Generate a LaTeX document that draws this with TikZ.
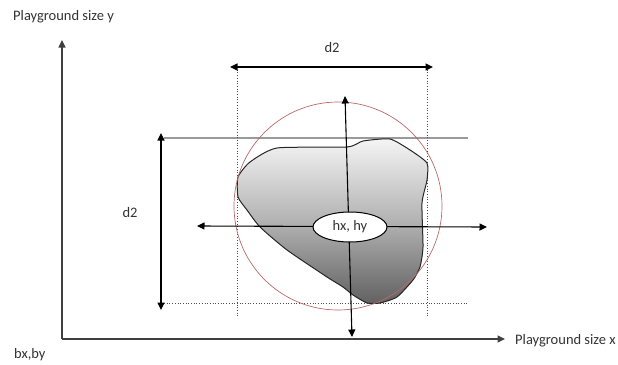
\documentclass[tikz,border=0pt]{standalone}
\usepackage{fontspec}
\setmainfont{Carlito}
\usetikzlibrary{arrows.meta,shapes.geometric}
\definecolor{axisgray}{HTML}{404040}
\definecolor{circred}{HTML}{B86A6A}
\definecolor{lgray}{HTML}{9A9A9A}
\begin{document}
\begin{tikzpicture}[x=1pt,y=-1pt,
  lbl/.style={font=\fontsize{14.5}{16}\selectfont, text=black!80, inner sep=0pt},
  arr/.style={black, line width=1.1pt, -{Triangle[length=7.5pt,width=7pt]}},
  darr/.style={black, line width=1.1pt, {Triangle[length=7.5pt,width=7pt]}-{Triangle[length=7.5pt,width=7pt]}},
  axis/.style={axisgray, line width=1.1pt, -{Triangle[length=7.5pt,width=7pt]}},
  guide/.style={black!70, dotted, line width=0.7pt},
  hubnode/.style={ellipse, draw=black, line width=1pt, fill=white, minimum width=74pt, minimum height=30pt, inner sep=0pt, font=\fontsize{14.5}{16}\selectfont, text=black!80}
]
\useasboundingbox (0,0) rectangle (618,364);
% axes
\coordinate (O) at (62,339);
\coordinate (ytip) at (62,40);
\coordinate (xtip) at (505,339);
\draw[axis] (O) -- (ytip);
\draw[axis] (O) -- (xtip);
\node[lbl, anchor=west] (ylab) at (13,17) {Playground size y};
\node[lbl, anchor=west] (xlab) at (515,341) {Playground size x};
\node[lbl, anchor=west] (blab) at (14,355) {bx,by};
% guide lines
\coordinate (tl) at (164,138); \coordinate (tr) at (468,138);
\coordinate (bl) at (164,303); \coordinate (br) at (468,303);
\coordinate (vl1) at (237,67); \coordinate (vl2) at (237,316);
\coordinate (vr1) at (427,67); \coordinate (vr2) at (427,316);
\draw[lgray, line width=1.3pt] (tl) -- (tr);
\draw[guide] (bl) -- (br);
\draw[guide] (vl1) -- (vl2);
\draw[guide] (vr1) -- (vr2);
% blob
\path[draw=black!85, line width=1pt, top color=white!96!black, bottom color=black!62, middle color=black!30, shading angle=0]
  plot[smooth cycle, tension=0.35] coordinates {
  (238,177) (250,162) (277,148) (347,147) (363,141) (390,139) (410,150) (427,163)
  (427,180) (422,203) (423,247) (420,267) (413,280) (397,297) (380,303) (367,303)
  (353,295) (343,287) (327,277) (287,250) (260,227) (247,210) (238,197)};
% circle
\node[circle, draw=circred, line width=0.7pt, minimum size=208pt, inner sep=0pt] (circ) at (338,206) {};
% d2 dimensions
\coordinate (dl) at (230,67); \coordinate (dr) at (433,67);
\draw[darr] (dl) -- (dr);
\node[lbl] (d2top) at (332,48) {d2};
\coordinate (dt) at (161,133); \coordinate (db) at (161,310);
\draw[darr] (dt) -- (db);
\node[lbl] (d2left) at (130,213) {d2};
% centre and cross arrows
\coordinate (vt) at (345,96);
\coordinate (vb) at (352,337);
\coordinate (hl) at (197,226);
\coordinate (hr) at (487,227);
\draw[darr] (vt) -- (vb);
\draw[darr] (hl) -- (hr);
\node[hubnode] (h) at (350,227) {hx, hy};
\end{tikzpicture}
\end{document}
